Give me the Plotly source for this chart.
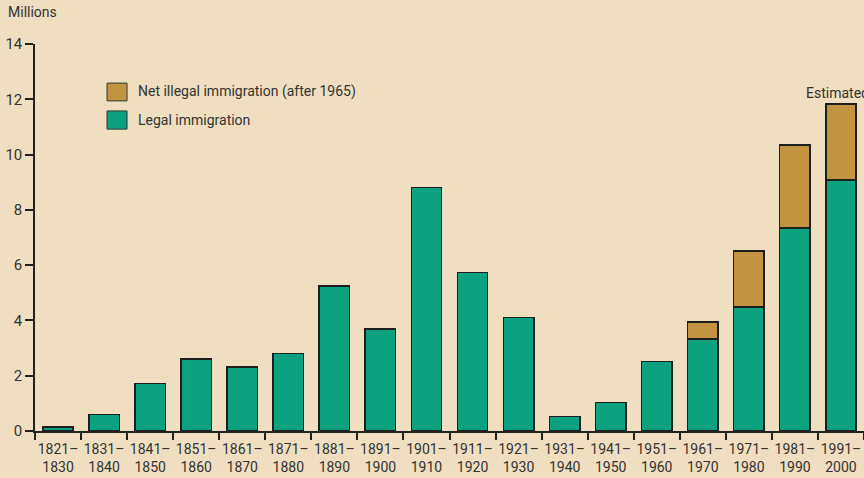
import plotly.graph_objects as go

decades = ["1821–<br>1830", "1831–<br>1840", "1841–<br>1850", "1851–<br>1860", "1861–<br>1870",
           "1871–<br>1880", "1881–<br>1890", "1891–<br>1900", "1901–<br>1910", "1911–<br>1920",
           "1921–<br>1930", "1931–<br>1940", "1941–<br>1950", "1951–<br>1960", "1961–<br>1970",
           "1971–<br>1980", "1981–<br>1990", "1991–<br>2000"]
legal = [0.15, 0.6, 1.71, 2.6, 2.31, 2.81, 5.25, 3.69, 8.8, 5.74, 4.1, 0.53, 1.04, 2.52,
         3.32, 4.49, 7.34, 9.08]
illegal = [0, 0, 0, 0, 0, 0, 0, 0, 0, 0, 0, 0, 0, 0, 0.62, 2.02, 3.01, 2.75]
y_ticks = [0, 2, 4, 6, 8, 10, 12, 14]

BG = "#EFDFC0"
TEAL = "#0DA27F"
GOLD = "#C29340"
EDGE = "#1E1E1E"
FONT = "Roboto, Arial, sans-serif"
TXT = "#333333"

fig = go.Figure()
fig.add_bar(x=decades, y=legal, name="Legal immigration",
            marker=dict(color=TEAL, line=dict(color=EDGE, width=1.5)), width=0.66)
ill_x = [d for d, v in zip(decades, illegal) if v > 0]
ill_y = [v for v in illegal if v > 0]
fig.add_bar(x=ill_x, y=ill_y, name="Net illegal immigration (after 1965)",
            marker=dict(color=GOLD, line=dict(color=EDGE, width=1.5)), width=0.66)

fig.update_layout(
    barmode="stack",
    width=864, height=478,
    margin=dict(l=35, r=0, t=44, b=47),
    paper_bgcolor=BG, plot_bgcolor=BG,
    showlegend=False,
    font=dict(family=FONT, size=14, color=TXT),
    xaxis=dict(type="category", tickson="boundaries", ticks="outside", ticklen=7, tickcolor="#222",
               tickwidth=1.5, showline=True, linecolor="#222", linewidth=1.5, showgrid=False,
               tickangle=0, automargin=False, ticklabelstandoff=4,
               tickfont=dict(size=14, color=TXT), range=[-0.5, 17.5]),
    yaxis=dict(range=[0, 14], tickvals=y_ticks, ticks="outside", ticklen=8, tickcolor="#222",
               tickwidth=1.5, showline=True, linecolor="#222", linewidth=1.5, showgrid=False,
               zeroline=False, automargin=False, tickfont=dict(size=15, color=TXT)),
)

# legend drawn manually
fig.add_shape(type="rect", xref="paper", yref="paper", x0=0.0869, x1=0.111, y0=0.853, y1=0.899,
              fillcolor=GOLD, line=dict(color="#333", width=1))
fig.add_shape(type="rect", xref="paper", yref="paper", x0=0.0869, x1=0.111, y0=0.780, y1=0.827,
              fillcolor=TEAL, line=dict(color="#333", width=1))
fig.add_annotation(xref="paper", yref="paper", x=0.1218, y=0.876, text="Net illegal immigration (after 1965)",
                   showarrow=False, xanchor="left", yanchor="middle", font=dict(size=14, color=TXT))
fig.add_annotation(xref="paper", yref="paper", x=0.1218, y=0.804, text="Legal immigration",
                   showarrow=False, xanchor="left", yanchor="middle", font=dict(size=14, color=TXT))

fig.add_annotation(xref="paper", yref="paper", x=-0.035, y=1.083, text="Millions", showarrow=False,
                   xanchor="left", yanchor="middle", font=dict(size=14, color=TXT))
fig.add_annotation(x=decades[-1], y=legal[-1] + illegal[-1], text="Estimated", showarrow=False,
                   xanchor="left", yanchor="bottom", xshift=-37, yshift=1, font=dict(size=14, color=TXT))

fig.write_html("out.html", config={"displayModeBar": False},
               post_script="document.body.style.margin='0';document.body.style.background='%s';"
                           "document.body.style.overflow='hidden';" % BG)
